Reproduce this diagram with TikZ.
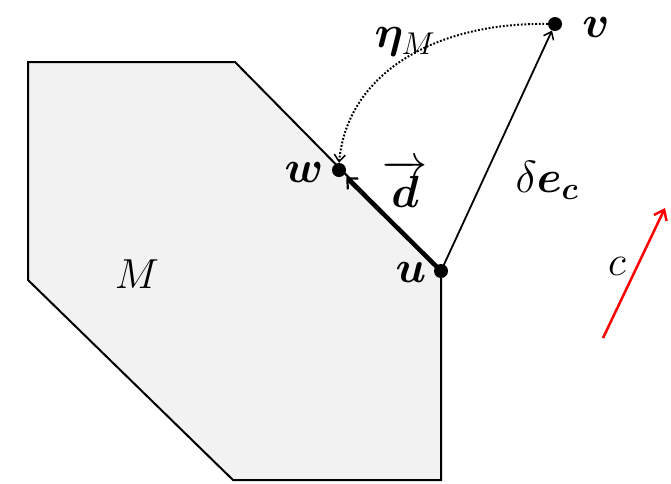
\RequirePackage{fix-cm}
\documentclass[tikz,border=0pt]{standalone}
\usepackage{amsmath,bm}
\usetikzlibrary{arrows.meta}
\begin{document}
\begin{tikzpicture}[x=1pt,y=-1pt,
  dotn/.style={circle,fill=black,inner sep=0pt,minimum size=14pt},
  lbl/.style={inner sep=0pt,font=\fontsize{42}{46}\selectfont},
  blbl/.style={inner sep=0pt,font=\fontsize{45}{50}\selectfont},
  barb/.style={-{Straight Barb[length=7pt,width=11pt,line width=1.5pt]}}]
\useasboundingbox (0,0) rectangle (671,483);
\draw[fill=black!5,line width=2pt,line join=miter]
  (28,62) -- (235,62) -- (441,271) -- (441,480) -- (233,480) -- (28,280) -- cycle;
\node[dotn] (u) at (441,271) {};
\node[dotn] (w) at (339,170) {};
\node[dotn] (v) at (555,24) {};
\draw[line width=4.5pt,-{Straight Barb[length=8pt,width=15pt,line width=2.2pt]},shorten >=3pt] (u.center) -- (w);
\draw[line width=1.8pt,barb] (u.center) -- (v);
\draw[line width=2pt,dash pattern=on 1.8pt off 1.8pt,barb] (v.west) .. controls (440,22) and (348,70) .. (w.north);
\coordinate (c0) at (603,338);
\coordinate (c1) at (665,208);
\draw[red,line width=2.5pt,-{Straight Barb[length=9pt,width=14pt,line width=2.5pt]}] (c0) -- (c1);
\node[blbl] (lv) at (596,27) {$\bm{v}$};
\node[blbl] (leta) at (405,42) {$\bm{\eta}_{M}$};
\node[blbl] (lw) at (304,172) {$\bm{w}$};
\node[blbl] (ld) at (405,184) {$\overrightarrow{\bm{d}}$};
\node[blbl] (lde) at (547,180) {$\delta\bm{e}_{\bm{c}}$};
\node[blbl] (lu) at (411,272) {$\bm{u}$};
\node[lbl] (lM) at (137,274) {$M$};
\node[lbl] (lc) at (617,266) {$c$};
\end{tikzpicture}
\end{document}
